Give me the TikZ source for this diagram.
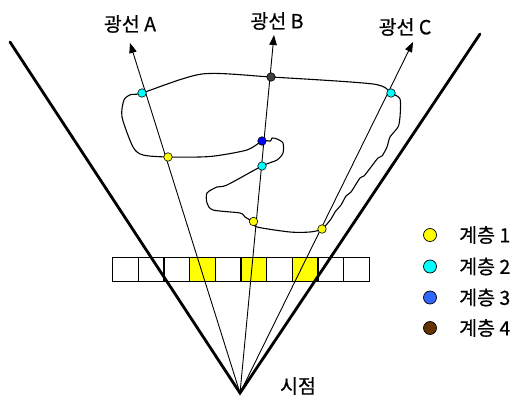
\documentclass[tikz,border=0pt]{standalone}
\usepackage{fontspec}
\setmainfont{Noto Sans CJK KR}[FakeBold=0.6]
\usetikzlibrary{arrows.meta}
\definecolor{ycol}{HTML}{FFFF00}
\definecolor{ccol}{HTML}{00FFFF}
\definecolor{bcol}{HTML}{0000FF}
\definecolor{lbcol}{HTML}{3366FF}
\definecolor{gcol}{HTML}{404040}
\definecolor{brcol}{HTML}{663300}
\tikzset{
  dot/.style={circle,draw=black,line width=0.6pt,inner sep=0pt,minimum size=8.5pt},
  legdot/.style={circle,draw=black,line width=0.7pt,inner sep=0pt,minimum size=13pt},
  lbl/.style={font=\fontsize{19.5}{19.5}\selectfont,inner sep=0pt},
  thickline/.style={line width=2.8pt},
  ray/.style={line width=0.9pt,-{Triangle[length=10pt,width=7.5pt]}},
  cell/.style={draw=black,line width=1.4pt}
}
\begin{document}
\begin{tikzpicture}[x=1pt,y=-1pt]
\useasboundingbox (0,0) rectangle (522,401);
% grid
\foreach \i in {0,...,9}{
  \pgfmathsetmacro{\xa}{112.7+25.66*\i}
  \pgfmathsetmacro{\xb}{112.7+25.66*(\i+1)}
  \ifnum\i=3 \fill[ycol] (\xa,257.3) rectangle (\xb,281.7);\fi
  \ifnum\i=5 \fill[ycol] (\xa,257.3) rectangle (\xb,281.7);\fi
  \ifnum\i=7 \fill[ycol] (\xa,257.3) rectangle (\xb,281.7);\fi
  \draw[cell] (\xa,257.3) rectangle (\xb,281.7);
}
% coordinates
\coordinate (eye) at (240,393);
\coordinate (L) at (10,42);
\coordinate (R) at (480,34);
\coordinate (tA) at (130,43);
\coordinate (tB) at (274,35);
\coordinate (tC) at (413,42);
% thick lines
\draw[thickline,line cap=round,line join=miter] (L) -- (eye) -- (R);
% rays
\draw[ray] (eye) -- (tA);
\draw[ray] (eye) -- (tB);
\draw[ray] (eye) -- (tC);
% labels
\node[lbl] (labA) at (130,24) {광선 A};
\node[lbl] (labB) at (277,21) {광선 B};
\node[lbl] (labC) at (405,27) {광선 C};
\node[lbl] (labE) at (298,386) {시점};
% curve
\draw[line width=1.1pt,line join=round] plot[smooth cycle,tension=0.45] coordinates {
(262,141) (247,150) (210,156.5) (168,157) (143,155) (133,147) (122,117) (124,100) (131,94.5)
(142,93) (202,74) (271,77) (373,84) (391,93) (400,99) (400,117) (398,127) (390,137)
(387,147) (382,156) (378,158) (371,167) (364,176) (360,178) (351,192) (346,196) (341,205) (335,212) (331,219)
(322,229) (310,232) (290,232) (257,227) (253,222) (245,217) (240,213) (213,210) (207,203) (207,193)
(217,187) (227,185) (262,166) (277,160) (283,153) (283,143) (277,139) (272,138) (270.5,141)
};
% dots
\node[dot,fill=ccol] (cA) at (142,93) {};
\node[dot,fill=gcol] (gB) at (271,77) {};
\node[dot,fill=ccol] (cC) at (391,93) {};
\node[dot,fill=bcol] (bB) at (262,141) {};
\node[dot,fill=ccol] (cB) at (262,166) {};
\node[dot,fill=ycol] (yA) at (168,157) {};
\node[dot,fill=ycol] (yB) at (253.5,221.5) {};
\node[dot,fill=ycol] (yC) at (322,229) {};
% legend
\node[legdot,fill=ycol] (l1) at (430,235) {};
\node[legdot,fill=ccol] (l2) at (430,266.5) {};
\node[legdot,fill=lbcol] (l3) at (430,297.5) {};
\node[legdot,fill=brcol] (l4) at (430,328) {};
\node[lbl,anchor=west] (t1) at (459,235) {계층 1};
\node[lbl,anchor=west] (t2) at (459,266.5) {계층 2};
\node[lbl,anchor=west] (t3) at (459,297.5) {계층 3};
\node[lbl,anchor=west] (t4) at (459,328) {계층 4};
\end{tikzpicture}
\end{document}
